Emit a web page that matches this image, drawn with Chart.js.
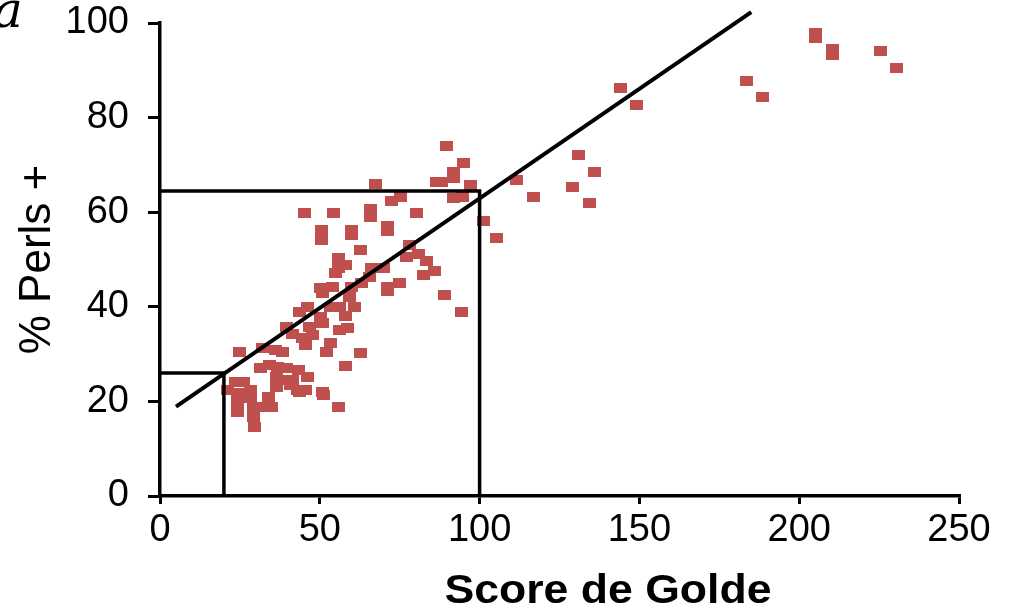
<!DOCTYPE html>
<html>
<head>
<meta charset="utf-8">
<script src="https://cdn.jsdelivr.net/npm/chart.js@4.4.1/dist/chart.umd.min.js"></script>
<style>
  html, body { margin: 0; padding: 0; background: #fff; }
  #wrap { width: 1016px; height: 606px; }
</style>
</head>
<body>
<div id="wrap"><canvas id="golde-chart" width="1016" height="606"></canvas></div>
<script>
// Golde score vs % Perls positive cells
const goldeScores = [
  205, 205, 210.5, 210.5, 225.3, 230.6, 183.4, 188.4, 144.2, 149.2, 130.8, 136.1, 129.2, 134.5, 111.7, 117.0, 101.1, 105.4,
  89.7, 95.0, 91.7, 91.7, 86.4, 88.0, 97.0, 67.3, 75.4, 72.3, 91.7, 94.5, 45.1, 54.4, 66.0, 66.0, 80.4, 50.4, 50.4, 59.8,
  59.8, 71.3, 71.3, 62.6, 78.2, 77.0, 81.0, 83.5, 86.0, 82.3, 88.9, 94.2,
  56.0, 56.0, 54.8, 57.9, 66.3, 69.8, 65.7, 63.2, 71.3, 74.8, 71.3, 50.1, 50.7, 54.1, 59.8, 59.4, 61.0, 56.3, 53.2, 46.0,
  43.8, 50.1, 51.0, 39.7, 41.6, 46.9, 47.6, 56.3, 58.8, 53.2, 45.4, 52.0, 62.6, 57.9, 44.5, 58.0,
  25.0, 32.2, 36.0, 38.2, 31.3, 34.4, 36.9, 39.7, 43.2, 46.0, 36.6, 38.5, 41.6, 36.6, 42.9, 45.4, 40.7, 23.5, 26.0, 28.2,
  21.0, 24.4, 28.2, 24.1, 24.1, 29.1, 32.9, 35.0, 29.1, 29.7, 51.0, 51.3, 56.0, 43.8, 33.8
];
const perlsPct = [
  97.8, 96.8, 94.4, 93.2, 94.1, 90.5, 87.7, 84.4, 86.3, 82.7, 72.1, 68.5, 65.3, 61.9, 66.8, 63.2, 58.1, 54.5,
  73.9, 70.3, 68.5, 67.3, 66.4, 66.4, 65.8, 66.0, 63.2, 62.4, 63.0, 63.2, 59.8, 59.8, 60.7, 59.0, 59.8, 56.2, 54.1, 56.2,
  55.2, 57.1, 56.0, 52.0, 53.1, 50.5, 51.2, 49.7, 47.6, 46.7, 42.5, 38.9,
  50.3, 48.2, 47.1, 48.8, 48.2, 48.2, 46.3, 45.0, 44.2, 45.0, 43.3, 44.0, 42.9, 44.2, 44.2, 42.1, 40.0, 40.0, 40.0, 40.0,
  38.9, 37.8, 36.6, 35.7, 34.2, 35.7, 34.0, 35.1, 35.5, 32.3, 31.9, 30.5, 30.2, 27.5, 33.4, 38.0,
  30.4, 31.3, 30.9, 30.4, 27.1, 27.7, 27.3, 27.1, 26.6, 25.2, 25.2, 24.5, 24.5, 23.0, 22.4, 22.4, 23.5, 24.1, 24.1, 22.4,
  22.4, 21.8, 20.7, 19.7, 17.8, 18.8, 18.8, 18.8, 16.7, 14.6, 22.0, 21.4, 18.8, 22.0, 21.0
];

// regression line end points
const fitX = [5, 185];
const fitY = [18.9, 102.3];

// threshold guides: score 20 -> 26 %, score 100 -> 64.5 %
const lowGuideX = [0, 20, 20];
const lowGuideY = [26, 26, 0];
const highGuideX = [0, 100, 100];
const highGuideY = [64.5, 64.5, 0];

const xTicks = [0, 50, 100, 150, 200, 250];
const yTicks = [0, 20, 40, 60, 80, 100];

const xTitle = "Score de Golde";
const yTitle = "% Perls +";

const markerColor = "#C0504D";
const fontFamily = "'Liberation Sans', Arial, sans-serif";

function makeMarker(w, h, color) {
    const c = document.createElement("canvas");
    c.width = w;
    c.height = h;
    const g = c.getContext("2d");
    g.fillStyle = color;
    g.fillRect(0, 0, w, h);
    return c;
}

function toPoints(xs, ys) {
    return xs.map((x, i) => ({ x: x, y: ys[i] }));
}

function lineSet(xs, ys, width) {
    return {
        type: "scatter",
        data: toPoints(xs, ys),
        showLine: true,
        borderColor: "#000",
        borderWidth: width,
        pointRadius: 0,
        fill: false,
        clip: false,
        order: 0
    };
}

// panel letter in the corner and the wide bold x title
const extraText = {
    id: "extraText",
    afterDraw(chart) {
        const ctx = chart.ctx;
        ctx.save();
        ctx.fillStyle = "#000";
        ctx.textBaseline = "alphabetic";
        ctx.font = "italic 50px 'DejaVu Serif', serif";
        ctx.fillText("a", -7, 27);

        // x title, stretched a little sideways
        ctx.font = "bold 40px " + fontFamily;
        const w = ctx.measureText(xTitle).width;
        const sx = 327 / w;
        ctx.translate(608, 603);
        ctx.scale(sx, 1);
        ctx.textAlign = "center";
        ctx.fillText(xTitle, 0, 0);
        ctx.restore();
    }
};

const axisGrid = {
    display: true,
    drawOnChartArea: false,
    drawTicks: true,
    tickLength: 12,
    color: "#000",
    lineWidth: 3
};

new Chart(document.getElementById("golde-chart"), {
    type: "scatter",
    data: {
        datasets: [
            lineSet(fitX, fitY, 4),
            lineSet(lowGuideX, lowGuideY, 3.5),
            lineSet(highGuideX, highGuideY, 3.5),
            {
                data: toPoints(goldeScores, perlsPct),
                pointStyle: makeMarker(13, 10, markerColor),
                pointRadius: 6,
                order: 1
            }
        ]
    },
    options: {
        responsive: false,
        animation: false,
        devicePixelRatio: 1,
        layout: { padding: { left: 0, top: 23, right: 57, bottom: 0 } },
        plugins: { legend: { display: false }, tooltip: { enabled: false } },
        scales: {
            x: {
                type: "linear",
                min: 0,
                max: 250,
                afterBuildTicks: (scale) => { scale.ticks = xTicks.map(v => ({ value: v })); },
                afterFit: (scale) => { scale.height = 110; },
                border: { color: "#000", width: 3.5 },
                grid: Object.assign({}, axisGrid, { tickLength: 8 }),
                ticks: { color: "#000", font: { family: fontFamily, size: 38 }, padding: 4, maxRotation: 0 }
            },
            y: {
                type: "linear",
                min: 0,
                max: 100,
                afterBuildTicks: (scale) => { scale.ticks = yTicks.map(v => ({ value: v })); },
                afterFit: (scale) => {
                    scale.width = 160;
                    // keep the plot top fixed by the layout padding only
                    scale.paddingTop = 0;
                    scale.paddingBottom = 0;
                },
                border: { color: "#000", width: 3.5 },
                grid: axisGrid,
                ticks: { color: "#000", font: { family: fontFamily, size: 38 }, padding: 19 },
                title: {
                    display: true,
                    text: yTitle,
                    color: "#000",
                    font: { family: fontFamily, size: 44 },
                    padding: { top: 11, bottom: 0 }
                }
            }
        }
    },
    plugins: [extraText]
});
</script>
</body>
</html>
